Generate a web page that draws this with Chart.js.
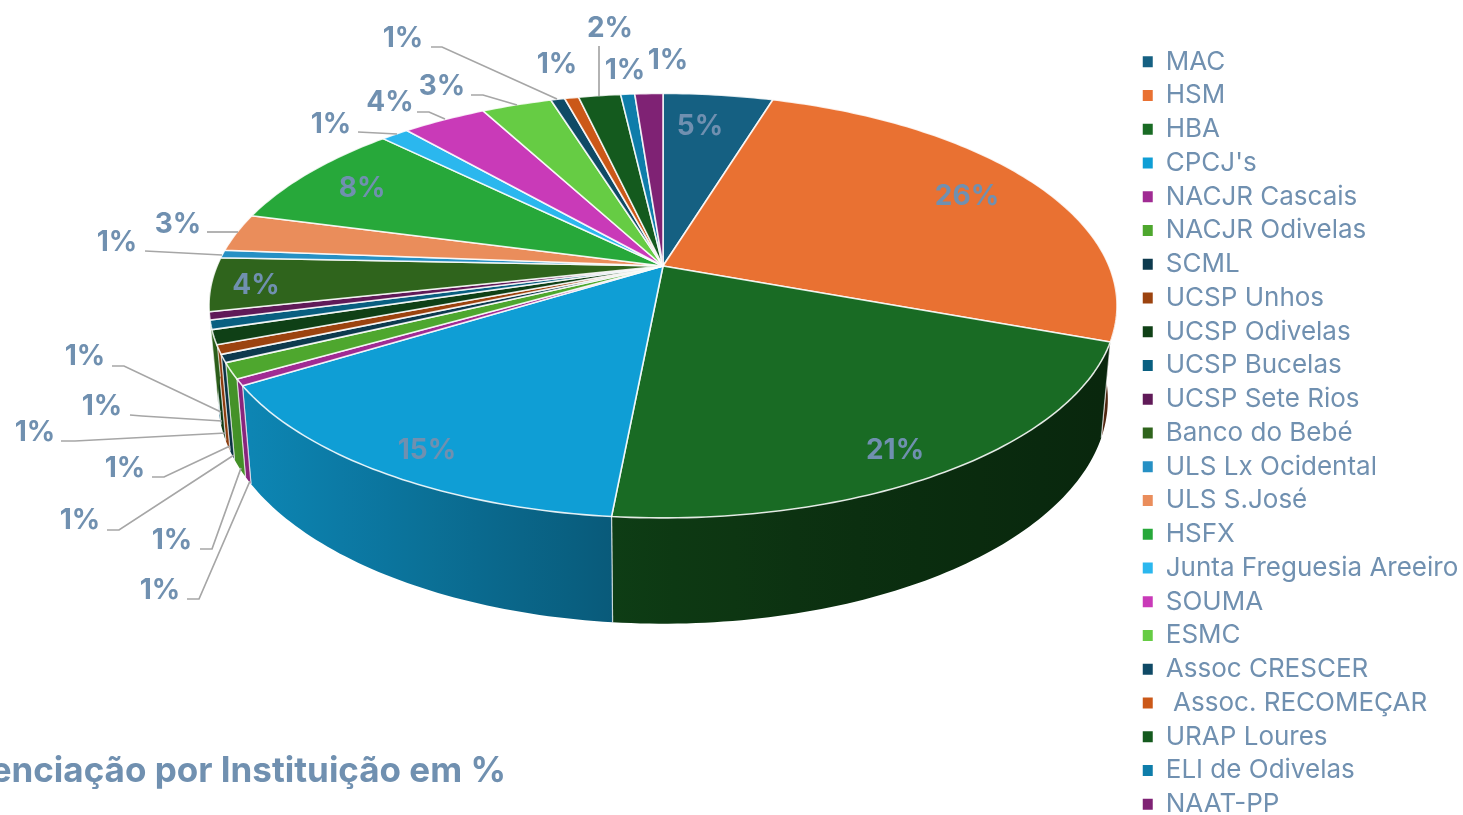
<!DOCTYPE html>
<html lang="pt">
<head>
<meta charset="utf-8">
<title>Referenciação por Instituição em %</title>
<script src="https://cdn.jsdelivr.net/npm/chart.js@4/dist/chart.umd.min.js"></script>
<style>
  html, body { margin: 0; background: #fff; overflow: hidden; height: 815px; }
  canvas { display: block; }
</style>
</head>
<body>
<!-- mais alto que a janela: a legenda de 23 linhas precisa caber numa só coluna -->
<canvas id="pie3d" width="1465" height="866"></canvas>
<script>
/* ---------- dados ---------- */
const institutions = ['MAC', 'HSM', 'HBA', "CPCJ's", 'NACJR Cascais', 'NACJR Odivelas', 'SCML', 'UCSP Unhos',
  'UCSP Odivelas', 'UCSP Bucelas', 'UCSP Sete Rios', 'Banco do Bebé', 'ULS Lx Ocidental', 'ULS S.José', 'HSFX',
  'Junta Freguesia Areeiro', 'SOUMA', 'ESMC', 'Assoc CRESCER', ' Assoc. RECOMEÇAR', 'URAP Loures', 'ELI de Odivelas', 'NAAT-PP'];
const shares = [4.7, 26.0, 20.9, 14.7, 0.5, 1.2, 0.6, 0.7, 1.1, 0.7, 0.6, 4.1, 0.6, 2.9, 8.3, 1.2, 3.6, 3.0, 0.6, 0.6, 1.8, 0.6, 1.2];
const sliceColors = ['#156082', '#E97132', '#196B24', '#0F9ED5', '#A02B93', '#4EA72E', '#0D3A4E', '#9C430F',
  '#0F4016', '#095F80', '#601A58', '#2F641C', '#2690C4', '#EA8D5B', '#27A83A', '#2BB7EE', '#C93AB8', '#66CC44',
  '#0F4A66', '#CB5818', '#145A1E', '#0E7DAA', '#7F2274'];
const chartTitle = 'Referenciação por Instituição em %';

/* ---------- layout ---------- */
// centro dos rótulos, mesma ordem das fatias
const labelXY = [[700, 125], [967, 195], [895, 449], [427, 449], [160, 589], [172, 539], [80, 519], [125, 467],
  [35, 431], [102, 405], [85, 355], [256, 284], [117, 241], [178, 223], [362, 187], [331, 123], [390, 101],
  [442, 85], [403, 37], [557, 63], [610, 27], [625, 69], [668, 59]];
// linhas de chamada por índice de fatia
const leaders = {
  4: [[187, 599], [199, 599], [250, 481]],
  5: [[200, 549], [212, 549], [241, 468]],
  6: [[107, 530], [119, 530], [234, 455]],
  7: [[152, 477], [164, 477], [230, 446]],
  8: [[61, 441], [75, 441], [226, 433]],
  9: [[130, 415], [142, 416], [222, 421]],
  10: [[112, 366], [124, 366], [221, 412]],
  12: [[145, 251], [222, 255]],
  13: [[207, 232], [238, 232]],
  15: [[358, 132], [397, 134]],
  16: [[417, 112], [429, 112], [445, 119]],
  17: [[471, 95], [483, 95], [517, 105]],
  18: [[431, 47], [442, 47], [557, 99]],
  20: [[599, 46], [599, 96]],
};
const TEXT = '#7090B0';
const LEADER = '#A6A6A6';

/* perspectiva: círculo -> elipse, com o vértice fora do centro da elipse */
const APEX = { x: 663, y: 266 };
const PERSP = -0.187;
const TOP_RIM = { dx: 446, dy: 204.8, off: 0 };
const BASE_RIM = { dx: 437, dy: 216.5, off: 91.4 };
const DEG = Math.PI / 180;

function rimPoint(theta, rim) {
  const u = Math.sin(theta), v = -Math.cos(theta), w = 1 + PERSP * v;
  return { x: APEX.x + rim.dx * u / w, y: APEX.y + rim.off + rim.dy * v / w };
}
function rimPath(ctx, from, to, rim, first) {
  const n = Math.max(2, Math.ceil(Math.abs(to - from) / DEG));
  for (let i = 0; i <= n; i++) {
    const p = rimPoint(from + (to - from) * i / n, rim);
    if (i === 0 && first) ctx.moveTo(p.x, p.y); else ctx.lineTo(p.x, p.y);
  }
}

// sombra da parede lateral, conforme o ângulo (graus desde o topo)
function wallShade(deg) {
  const stops = [[90, 0.34], [110, 0.36], [150, 0.44], [185, 0.57], [240, 0.85], [270, 1]];
  if (deg <= stops[0][0]) return stops[0][1];
  for (let i = 1; i < stops.length; i++) {
    if (deg <= stops[i][0]) {
      const a = stops[i - 1], b = stops[i];
      return a[1] + (b[1] - a[1]) * (deg - a[0]) / (b[0] - a[0]);
    }
  }
  return 1;
}
function shadeHex(hex, f) {
  const n = parseInt(hex.slice(1), 16);
  return 'rgb(' + Math.round((n >> 16) * f) + ',' + Math.round(((n >> 8) & 255) * f) + ',' + Math.round((n & 255) * f) + ')';
}

function drawWall(ctx, from, to, color) {
  const a = Math.max(from, 95 * DEG), b = Math.min(to, 265 * DEG);
  if (b <= a) return;
  const p0 = rimPoint(a, BASE_RIM), p1 = rimPoint(b, BASE_RIM);
  const grad = ctx.createLinearGradient(p0.x, 0, p1.x === p0.x ? p0.x + 1 : p1.x, 0);
  for (let i = 0; i <= 8; i++) {
    grad.addColorStop(i / 8, shadeHex(color, wallShade((a + (b - a) * i / 8) / DEG)));
  }
  ctx.beginPath();
  rimPath(ctx, a, b, TOP_RIM, true);
  rimPath(ctx, b, a, BASE_RIM, false);
  ctx.closePath();
  ctx.fillStyle = grad;
  ctx.fill();
  ctx.strokeStyle = 'rgba(255,255,255,0.6)';
  ctx.lineWidth = 1.2;
  [a, b].forEach(t => {
    const s = rimPoint(t, TOP_RIM), e = rimPoint(t, BASE_RIM);
    ctx.beginPath(); ctx.moveTo(s.x, s.y); ctx.lineTo(e.x, e.y); ctx.stroke();
  });
}

const pie3d = {
  id: 'pie3d',
  // as fatias vêm da escala do próprio Chart.js (startAngle/endAngle)
  beforeDatasetsDraw(chart) {
    const { ctx } = chart;
    const arcs = chart.getDatasetMeta(0).data;
    const ang = arcs.map(a => [a.startAngle + Math.PI / 2, a.endAngle + Math.PI / 2]);
    ctx.save();
    ctx.lineJoin = 'round';
    arcs.forEach((a, i) => drawWall(ctx, ang[i][0], ang[i][1], sliceColors[i]));
    arcs.forEach((a, i) => {
      ctx.beginPath();
      ctx.moveTo(APEX.x, APEX.y);
      rimPath(ctx, ang[i][0], ang[i][1], TOP_RIM, false);
      ctx.closePath();
      ctx.fillStyle = sliceColors[i];
      ctx.fill();
      ctx.strokeStyle = 'rgba(255,255,255,0.85)';
      ctx.lineWidth = 1.6;
      ctx.stroke();
    });
    ctx.restore();
    return false;
  },
  afterDraw(chart) {
    const { ctx } = chart;
    ctx.save();
    ctx.strokeStyle = LEADER;
    ctx.lineWidth = 1.7;
    Object.values(leaders).forEach(pts => {
      ctx.beginPath();
      pts.forEach((p, i) => i ? ctx.lineTo(p[0], p[1]) : ctx.moveTo(p[0], p[1]));
      ctx.stroke();
    });
    ctx.fillStyle = TEXT;
    ctx.font = '700 28px Inter, sans-serif';
    ctx.textAlign = 'center';
    ctx.textBaseline = 'middle';
    shares.forEach((v, i) => ctx.fillText(Math.round(v) + '%', labelXY[i][0], labelXY[i][1] + 2));
    ctx.font = '700 35px Inter, sans-serif';
    ctx.textAlign = 'right';
    ctx.fillText(chartTitle, 506, 771);
    ctx.restore();
  },
};

new Chart(document.getElementById('pie3d'), {
  type: 'pie',
  data: {
    labels: institutions,
    datasets: [{ data: shares, backgroundColor: sliceColors, borderWidth: 0 }],
  },
  options: {
    responsive: false,
    animation: false,
    plugins: {
      tooltip: { enabled: false },
      legend: {
        position: 'right',
        align: 'center',
        maxWidth: 330,
        labels: {
          boxWidth: 10,
          boxHeight: 11,
          padding: 7.75,
          color: TEXT,
          font: { family: 'Inter, sans-serif', size: 26 },
        },
      },
    },
  },
  plugins: [pie3d],
});
</script>
</body>
</html>
